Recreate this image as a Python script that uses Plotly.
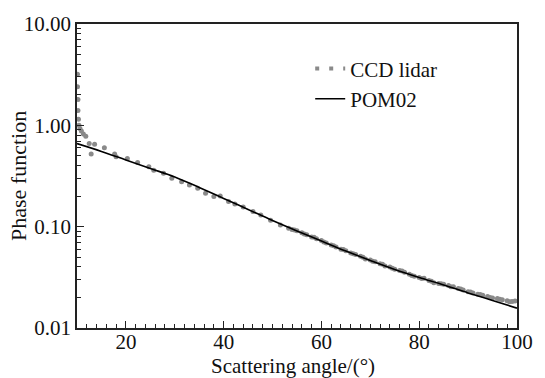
import plotly.graph_objects as go

# CCD lidar measurements (scattering angle in degrees, phase function)
lidar_angle = [10.1, 10.1, 10.2, 10.2, 10.3, 10.4, 10.6, 10.9, 11.3, 11.8,
               12.5, 12.9, 13.6, 15.6, 17.7, 18.0, 20.3, 22.4, 24.7, 25.7,
               27.7, 29.4, 31.4, 33.0, 34.7, 36.3, 38.0, 39.3, 41.0, 42.3,
               44.0, 46.0, 47.6, 49.6, 51.6, 53.3,
               54, 55, 56, 57, 58, 59, 60, 61, 62, 63, 64, 65, 66, 67, 68, 69,
               70, 71, 72, 73, 74, 75, 76, 77, 78, 79, 80, 81, 82, 83, 84, 85,
               86, 87, 88, 89, 90, 91, 92, 93, 94, 95, 96, 97, 98, 99, 99.6,
               54.5, 56.5, 58.5, 60.5, 62.5, 64.5, 66.5, 68.5, 70.5, 72.5,
               74.5, 76.5, 78.5, 80.5, 82.5, 84.5, 86.5, 88.5, 90.5, 92.5,
               94.5, 96.5, 98.5]
lidar_value = [3.2, 2.4, 1.8, 1.4, 1.15, 1.0, 0.93, 0.88, 0.82, 0.78,
               0.66, 0.52, 0.65, 0.6, 0.52, 0.49, 0.47, 0.43, 0.39, 0.36,
               0.337, 0.30, 0.278, 0.258, 0.239, 0.214, 0.198, 0.201, 0.177, 0.167,
               0.156, 0.141, 0.130, 0.116, 0.104, 0.0965,
               0.094, 0.091, 0.087, 0.083, 0.079, 0.076, 0.073, 0.069, 0.066, 0.063,
               0.060, 0.058, 0.055, 0.053, 0.051, 0.048, 0.047, 0.045, 0.043, 0.041,
               0.040, 0.038, 0.037, 0.0355, 0.034, 0.0325, 0.0315, 0.031, 0.0295, 0.028,
               0.0275, 0.027, 0.0262, 0.0255, 0.0245, 0.0237, 0.0228, 0.0222, 0.0215, 0.021,
               0.0205, 0.0198, 0.0195, 0.019, 0.0186, 0.0183, 0.0185,
               0.0925, 0.0845, 0.0785, 0.0705, 0.0648, 0.0595, 0.0540, 0.0498, 0.0455, 0.0425,
               0.0388, 0.0365, 0.0330, 0.0308, 0.0290, 0.0274, 0.0256, 0.0242, 0.0226, 0.0214,
               0.0200, 0.0192, 0.0182]

# POM02 model curve
pom_angle = [10, 15, 20, 25, 30, 35, 40, 45, 50, 55, 60, 65, 70, 75, 80, 85, 90, 95, 100]
pom_value = [0.66, 0.553, 0.455, 0.375, 0.31, 0.244, 0.19, 0.148, 0.115, 0.0907,
             0.0722, 0.0575, 0.0464, 0.0378, 0.0315, 0.0266, 0.0222, 0.0187, 0.0157]

x_ticks = [20, 40, 60, 80, 100]
y_ticks = [0.01, 0.1, 1, 10]
y_tick_text = ["0.01", "0.10", "1.00", "10.00"]
y_minor = [m * 10 ** e for e in (-2, -1, 0) for m in range(2, 10)]

FONT = "Liberation Serif, Times New Roman, Times, serif"
GRAY = "#8a8a8a"

fig = go.Figure()
fig.add_trace(go.Scatter(x=lidar_angle, y=lidar_value, mode="markers",
                         marker=dict(size=5, color=GRAY), showlegend=False,
                         cliponaxis=True))
fig.add_trace(go.Scatter(x=[None], y=[None], mode="lines", name="CCD lidar",
                         line=dict(color=GRAY, width=4, dash="4px,10px")))
fig.add_trace(go.Scatter(x=pom_angle, y=pom_value, mode="lines", name="POM02",
                         line=dict(color="black", width=1.6, shape="spline")))

fig.update_layout(
    width=545, height=378,
    margin=dict(l=77, r=15, t=24, b=50),
    paper_bgcolor="white", plot_bgcolor="white",
    font=dict(family=FONT, size=21, color="#111"),
    showlegend=True,
    legend=dict(x=0.53, y=0.92, xanchor="left", yanchor="top",
                bgcolor="rgba(0,0,0,0)", font=dict(size=21, family=FONT),
                tracegroupgap=0),
    xaxis=dict(range=[10, 100.01], tickvals=x_ticks, ticks="inside", ticklen=7,
               tickwidth=1.3, tickcolor="#222", showline=True, linecolor="#222",
               linewidth=1.6, mirror=True, showgrid=False, zeroline=False,
               ticklabeloverflow="allow", ticklabelstandoff=-6,
               minor=dict(dtick=2, tick0=0, ticks="inside", ticklen=4,
                          tickwidth=1.2, tickcolor="#222", showgrid=False),
               tickfont=dict(size=21, family=FONT)),
    yaxis=dict(type="log", range=[-2, 1], tickvals=y_ticks, ticktext=y_tick_text,
               ticks="inside", ticklen=7, tickwidth=1.3, tickcolor="#222",
               showline=True, linecolor="#222", linewidth=1.6, mirror=True,
               showgrid=False, zeroline=False,
               minor=dict(tickvals=y_minor, ticks="inside", ticklen=4,
                          tickwidth=1.2, tickcolor="#222", showgrid=False),
               tickfont=dict(size=21, family=FONT)),
    annotations=[
        dict(text="Scattering angle/(°)", xref="paper", yref="paper", x=0.49, y=0,
             xanchor="center", yanchor="middle", yshift=-38, showarrow=False,
             font=dict(size=21, family=FONT)),
        dict(text="Phase function", xref="paper", yref="paper", x=0, y=0.5,
             xanchor="center", yanchor="middle", xshift=-59, textangle=-90,
             showarrow=False, font=dict(size=22, family=FONT)),
    ],
)

fig.write_html("out.html")
